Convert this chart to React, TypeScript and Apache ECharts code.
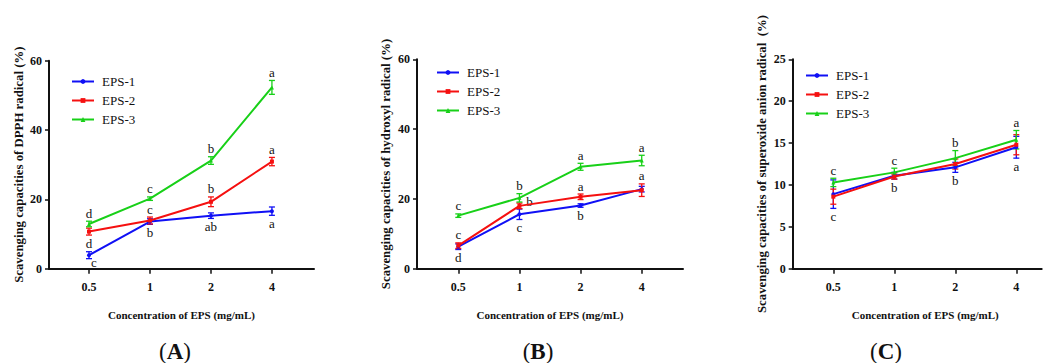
import React, { useEffect, useRef } from "react";
import * as echarts from "echarts";

const xLabels = ["0.5", "1", "2", "4"];
const seriesNames = ["EPS-1", "EPS-2", "EPS-3"];
const colors = ["#1010f5", "#f51010", "#18d018"];
const symbols = ["circle", "rect", "triangle"];

// Panel A: DPPH
const dpphValues = [
  [3.9, 13.6, 15.3, 16.6],
  [10.7, 13.9, 19.3, 30.9],
  [12.9, 20.2, 31.2, 52.3],
];
const dpphErrors = [
  [1.0, 0.8, 0.8, 1.2],
  [1.0, 1.0, 1.4, 1.2],
  [0.8, 0.5, 1.1, 2.0],
];
const dpphLetters = [
  [["c", "bottomright"], ["b", "bottom"], ["ab", "bottom"], ["a", "bottom"]],
  [["d", "bottom"], ["c", "top"], ["b", "top"], ["a", "top"]],
  [["d", "top"], ["c", "top"], ["b", "top"], ["a", "top"]],
];

// Panel B: hydroxyl
const hydroxylValues = [
  [6.3, 15.6, 18.1, 22.8],
  [6.6, 18.0, 20.6, 22.5],
  [15.2, 20.3, 29.2, 31.0],
];
const hydroxylErrors = [
  [0.8, 1.5, 0.5, 0.8],
  [0.8, 0.8, 0.8, 1.8],
  [0.5, 1.2, 1.0, 1.5],
];
const hydroxylLetters = [
  [["d", "bottom"], ["c", "bottom"], ["b", "bottom"], ["", "bottom"]],
  [["c", "top"], ["b", "right"], ["a", "top"], ["a", "top"]],
  [["c", "top"], ["b", "top"], ["a", "top"], ["a", "top"]],
];

// Panel C: superoxide anion
const superoxideValues = [
  [8.9, 11.1, 12.1, 14.5],
  [8.6, 11.0, 12.5, 14.8],
  [10.3, 11.5, 13.2, 15.4],
];
const superoxideErrors = [
  [1.7, 0.4, 0.6, 1.3],
  [0.9, 0.3, 0.6, 1.2],
  [0.5, 0.5, 0.9, 1.1],
];
const superoxideLetters = [
  [["c", "bottom"], ["b", "bottom"], ["b", "bottom"], ["a", "bottom"]],
  [["", "top"], ["", "top"], ["", "top"], ["", "top"]],
  [["c", "top"], ["c", "top"], ["b", "top"], ["a", "top"]],
];

const panels = [
  {
    values: dpphValues, errors: dpphErrors, letters: dpphLetters,
    yMax: 60, yInterval: 20,
    yName: "Scavenging capacities of DPPH radical (%)",
    grid: { left: 49, top: 60.7, width: 265, height: 208 },
    xMin: 0.344, xMax: 4.69, yGap: 24, xNamePad: 0,
    legend: { left: 66, top: 70 }, tag: "A", tagX: 175,
  },
  {
    values: hydroxylValues, errors: hydroxylErrors, letters: hydroxylLetters,
    yMax: 60, yInterval: 20,
    yName: "Scavenging capacities of hydroxyl radical (%)",
    grid: { left: 417, top: 59.3, width: 266, height: 209.4 },
    xMin: 0.325, xMax: 4.675, yGap: 25, xNamePad: 0,
    legend: { left: 431, top: 61 }, tag: "B", tagX: 538,
  },
  {
    values: superoxideValues, errors: superoxideErrors, letters: superoxideLetters,
    yMax: 25, yInterval: 5,
    yName: "Scavenging capacities of superoxide anion radical  (%)",
    grid: { left: 792.7, top: 59.3, width: 249, height: 209.4 },
    xMin: 0.334, xMax: 4.416, yGap: 24, xNamePad: 16,
    legend: { left: 800, top: 64 }, tag: "C", tagX: 886,
  },
];

const FONT = "Liberation Serif";

export default function App() {
  const ref = useRef<HTMLDivElement>(null);
  useEffect(() => {
    if (!ref.current) return;
    const chart = echarts.init(ref.current, null, { renderer: "svg" });

    const grids: any[] = [];
    const xAxes: any[] = [];
    const yAxes: any[] = [];
    const legends: any[] = [];
    const series: any[] = [];
    const graphics: any[] = [];

    panels.forEach((p, pi) => {
      grids.push({ ...p.grid, containLabel: false });
      xAxes.push({
        type: "value",
        gridIndex: pi,
        min: p.xMin,
        max: p.xMax,
        splitLine: { show: false },
        axisLine: { lineStyle: { color: "#111", width: 2 } },
        axisTick: { customValues: [1, 2, 3, 4], length: 5, lineStyle: { color: "#111", width: 1.5 } },
        axisLabel: {
          customValues: [1, 2, 3, 4],
          formatter: (v: number) => xLabels[Math.round(v) - 1] ?? "",
          fontFamily: FONT, fontWeight: "bold", fontSize: 12, color: "#111", margin: 12,
        },
        name: "Concentration of EPS (mg/mL)",
        nameLocation: "middle",
        nameGap: 41,
        nameTextStyle: {
          fontFamily: FONT, fontWeight: "bold", fontSize: 11, color: "#111",
          padding: [0, 0, 0, p.xNamePad],
        },
      });
      yAxes.push({
        type: "value",
        gridIndex: pi,
        min: 0,
        max: p.yMax,
        interval: p.yInterval,
        splitLine: { show: false },
        axisLine: { show: true, lineStyle: { color: "#111", width: 2 } },
        axisTick: { show: true, length: 4, lineStyle: { color: "#111", width: 1.5 } },
        axisLabel: { fontFamily: FONT, fontWeight: "bold", fontSize: 12, color: "#111", margin: 7 },
        name: p.yName,
        nameLocation: "middle",
        nameRotate: 90,
        nameGap: p.yGap,
        nameTextStyle: { fontFamily: FONT, fontWeight: "bold", fontSize: 12.8, color: "#111" },
      });
      legends.push({
        data: seriesNames,
        orient: "vertical",
        left: p.legend.left,
        top: p.legend.top,
        itemWidth: 22,
        itemHeight: 6,
        itemGap: 6,
        textStyle: { fontFamily: FONT, fontSize: 13, color: "#111", padding: [0, 0, 0, 3] },
      });

      p.values.forEach((vals, si) => {
        series.push({
          type: "line",
          name: seriesNames[si],
          xAxisIndex: pi,
          yAxisIndex: pi,
          data: vals.map((v, i) => [i + 1, v]),
          symbol: symbols[si],
          symbolSize: 4,
          lineStyle: { color: colors[si], width: 2 },
          itemStyle: { color: colors[si] },
          z: 3,
        });
        const errs = p.errors[si];
        const lets = p.letters[si];
        series.push({
          type: "custom",
          name: "err" + pi + si,
          xAxisIndex: pi,
          yAxisIndex: pi,
          data: vals.map((v, i) => [i + 1, v, errs[i]]),
          encode: { x: 0, y: 1 },
          z: 2,
          clip: false,
          renderItem: (params: any, api: any) => {
            const x = api.value(0);
            const y = api.value(1);
            const e = api.value(2);
            const top = api.coord([x, y + e]);
            const bot = api.coord([x, y - e]);
            const c = api.coord([x, y]);
            const st = { stroke: colors[si], lineWidth: 1.3 };
            const children: any[] = [
              { type: "line", shape: { x1: c[0], y1: top[1], x2: c[0], y2: bot[1] }, style: st },
              { type: "line", shape: { x1: c[0] - 3, y1: top[1], x2: c[0] + 3, y2: top[1] }, style: st },
              { type: "line", shape: { x1: c[0] - 3, y1: bot[1], x2: c[0] + 3, y2: bot[1] }, style: st },
            ];
            const L = lets[params.dataIndex];
            if (L && L[0]) {
              let tx = c[0];
              let ty = c[1];
              if (L[1] === "top") ty = top[1] - 8;
              else if (L[1] === "bottom") ty = bot[1] + 8;
              else if (L[1] === "bottomright") { tx = c[0] + 5; ty = bot[1] + 4; }
              else { tx = c[0] + 10; ty = c[1] - 4; }
              children.push({
                type: "text",
                x: tx,
                y: ty,
                style: {
                  text: L[0], fill: "#111", fontFamily: FONT, fontSize: 13,
                  align: "center", verticalAlign: "middle",
                },
              });
            }
            return { type: "group", children };
          },
        });
      });

      graphics.push({
        type: "text",
        x: p.tagX,
        y: 351,
        style: {
          text: "({b|" + p.tag + "})",
          fontFamily: FONT,
          fontSize: 23,
          fill: "#111",
          align: "center",
          verticalAlign: "middle",
          rich: { b: { fontFamily: FONT, fontSize: 23, fontWeight: "bold", fill: "#111" } },
        },
      });
    });

    chart.setOption({
      animation: false,
      backgroundColor: "#fff",
      textStyle: { fontFamily: FONT },
      grid: grids,
      xAxis: xAxes,
      yAxis: yAxes,
      legend: legends,
      series,
      graphic: graphics,
    });
    return () => chart.dispose();
  }, []);
  return (
    <div
      ref={ref}
      style={{ position: "absolute", left: 0, top: 0, width: 1048, height: 363 }}
    />
  );
}
